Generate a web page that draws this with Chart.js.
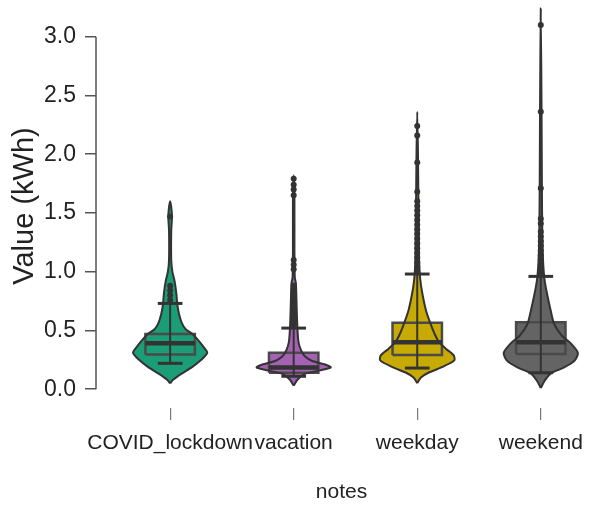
<!DOCTYPE html>
<html>
<head>
<meta charset="utf-8">
<script src="https://cdn.jsdelivr.net/npm/chart.js@4.4.1/dist/chart.umd.min.js"></script>
<style>
  body { margin: 0; background: #fff; }
  canvas { display: block; }
</style>
</head>
<body>
<canvas id="violinChart" width="591" height="506"></canvas>
<script>
const notes = ["COVID_lockdown", "vacation", "weekday", "weekend"];
const colors = ["#1b9e77", "#a561b3", "#c8aa04", "#646464"];
const yTicks = [0, 0.5, 1, 1.5, 2, 2.5, 3];

// violin outline: value levels and relative half-width at each level
const covidLevels = [0.05, 0.08, 0.13, 0.19, 0.25, 0.31, 0.36, 0.42, 0.47, 0.51, 0.56, 0.64, 0.73, 0.81, 0.92, 1.0, 1.1, 1.35, 1.47, 1.55, 1.6];
const covidWidths = [0, 0.08, 0.3, 0.6, 0.84, 1.0, 0.9, 0.75, 0.6, 0.42, 0.32, 0.24, 0.19, 0.17, 0.12, 0.06, 0.03, 0.03, 0.05, 0.03, 0];
const vacationLevels = [0.03, 0.08, 0.13, 0.16, 0.185, 0.21, 0.24, 0.28, 0.33, 0.4, 0.52, 0.7, 0.9, 0.95, 1.2, 1.6, 1.82];
const vacationWidths = [0, 0.1, 0.3, 0.7, 1.0, 0.85, 0.5, 0.3, 0.2, 0.13, 0.1, 0.08, 0.06, 0.03, 0.02, 0.02, 0];
const weekdayLevels = [0.05, 0.1, 0.14, 0.185, 0.245, 0.29, 0.345, 0.4, 0.47, 0.565, 0.665, 0.81, 0.94, 1.1, 1.4, 1.65, 2.0, 2.36];
const weekdayWidths = [0, 0.1, 0.3, 0.65, 1.0, 0.98, 0.77, 0.59, 0.47, 0.35, 0.24, 0.14, 0.08, 0.05, 0.04, 0.03, 0.02, 0];
const weekendLevels = [0.01, 0.07, 0.135, 0.185, 0.245, 0.31, 0.39, 0.455, 0.555, 0.665, 0.81, 0.935, 1.1, 1.34, 1.7, 2.4, 3.24];
const weekendWidths = [0, 0.1, 0.27, 0.63, 0.92, 1.0, 0.81, 0.57, 0.36, 0.27, 0.17, 0.1, 0.06, 0.04, 0.03, 0.02, 0];

// box stats: lower whisker, q1, median, q3, upper whisker
const covidBox = [0.22, 0.295, 0.39, 0.47, 0.73];
const vacationBox = [0.11, 0.14, 0.185, 0.31, 0.52];
const weekdayBox = [0.18, 0.29, 0.40, 0.565, 0.98];
const weekendBox = [0.14, 0.30, 0.40, 0.57, 0.96];

// outliers
const covidOut = [0.76, 0.8, 0.84, 0.88, 1.47];
const vacationOut = [0.55, 0.58, 0.61, 0.64, 0.67, 0.7, 0.73, 0.76, 0.79, 0.82, 0.85, 0.88, 1.02, 1.06, 1.1, 1.65, 1.7, 1.74, 1.79];
const weekdayOut = [1.0, 1.04, 1.08, 1.12, 1.16, 1.2, 1.24, 1.28, 1.32, 1.36, 1.4, 1.44, 1.48, 1.52, 1.56, 1.6, 1.68, 1.93, 2.16, 2.24];
const weekendOut = [0.98, 1.02, 1.06, 1.1, 1.14, 1.18, 1.22, 1.26, 1.3, 1.34, 1.41, 1.45, 1.71, 2.36, 3.1];

const groups = [
  { levels: covidLevels, widths: covidWidths, box: covidBox, out: covidOut },
  { levels: vacationLevels, widths: vacationWidths, box: vacationBox, out: vacationOut },
  { levels: weekdayLevels, widths: weekdayWidths, box: weekdayBox, out: weekdayOut },
  { levels: weekendLevels, widths: weekendWidths, box: weekendBox, out: weekendOut },
];

const VIOLIN_HALF = 0.3;
const BOX_HALF = 0.2;
const CAP_HALF = 0.1;
const EDGE = "#333333";

function violinPoints(i, levels, widths) {
  const right = levels.map((v, k) => ({ x: i + widths[k] * VIOLIN_HALF, y: v }));
  const left = levels.map((v, k) => ({ x: i - widths[k] * VIOLIN_HALF, y: v })).reverse();
  return right.concat(left.slice(1));
}

function segment(x1, y1, x2, y2, width, order) {
  return {
    type: "line",
    data: [{ x: x1, y: y1 }, { x: x2, y: y2 }],
    borderColor: EDGE,
    borderWidth: width,
    pointRadius: 0,
    fill: false,
    order: order,
  };
}

const datasets = [];
groups.forEach((g, i) => {
  const pts = violinPoints(i, g.levels, g.widths);
  const [lo, q1, med, q3, hi] = g.box;

  // violin fill underneath everything
  datasets.push({
    type: "line", data: pts, fill: "shape",
    backgroundColor: colors[i], borderColor: "rgba(0,0,0,0)",
    pointRadius: 0, tension: 0.25, order: 6,
  });
  // box
  datasets.push({
    type: "line",
    data: [{ x: i - BOX_HALF, y: q1 }, { x: i + BOX_HALF, y: q1 }, { x: i + BOX_HALF, y: q3 },
           { x: i - BOX_HALF, y: q3 }, { x: i - BOX_HALF, y: q1 }],
    fill: "shape", backgroundColor: colors[i], borderColor: "#4a4a4a", borderWidth: 2.5,
    pointRadius: 0, tension: 0, order: 5,
  });
  // violin outline
  datasets.push({
    type: "line", data: pts, fill: false, borderColor: EDGE, borderWidth: 2,
    pointRadius: 0, tension: 0.25, order: 4,
  });
  // whisker, caps, median
  datasets.push(segment(i, lo, i, hi, 2, 3));
  datasets.push(segment(i - CAP_HALF, lo, i + CAP_HALF, lo, 3, 2));
  datasets.push(segment(i - CAP_HALF, hi, i + CAP_HALF, hi, 3, 2));
  datasets.push(segment(i - BOX_HALF, med, i + BOX_HALF, med, 4.5, 2));
  // outlier points
  datasets.push({
    type: "scatter",
    data: g.out.map(v => ({ x: i, y: v })),
    backgroundColor: EDGE, borderWidth: 0, pointRadius: 3, order: 1,
  });
});

// R-style y axis line, only between first and last tick
const yAxisLine = {
  id: "yAxisLine",
  afterDraw(chart) {
    const { ctx, chartArea, scales: { y } } = chart;
    ctx.save();
    ctx.strokeStyle = "#555";
    ctx.lineWidth = 1.5;
    ctx.beginPath();
    ctx.moveTo(chartArea.left, y.getPixelForValue(yTicks[0]));
    ctx.lineTo(chartArea.left, y.getPixelForValue(yTicks[yTicks.length - 1]));
    ctx.stroke();
    ctx.restore();
  },
};

const fontFamily = "'Liberation Sans', Arial, sans-serif";

new Chart(document.getElementById("violinChart"), {
  type: "line",
  data: { datasets },
  plugins: [yAxisLine],
  options: {
    responsive: false,
    devicePixelRatio: 1,
    animation: false,
    layout: { padding: 0 },
    plugins: { legend: { display: false }, tooltip: { enabled: false } },
    scales: {
      x: {
        type: "linear",
        min: -0.6,
        max: 3.374,
        afterBuildTicks: s => { s.ticks = notes.map((_, i) => ({ value: i })); },
        afterFit: s => { s.height = 98; s.paddingLeft = 0; s.paddingRight = 0; },
        ticks: {
          autoSkip: false, maxRotation: 0, minRotation: 0, padding: 11,
          color: "#222", font: { family: fontFamily, size: 21 },
          callback: v => notes[v],
        },
        grid: { drawOnChartArea: false, drawTicks: true, tickLength: 12, color: "#777", lineWidth: 1.2 },
        border: { display: false },
        title: {
          display: true, text: "notes", color: "#222",
          font: { family: fontFamily, size: 21 }, padding: { top: 0, bottom: 1.5 },
        },
      },
      y: {
        min: -0.16,
        max: 3.278,
        afterBuildTicks: s => { s.ticks = yTicks.map(v => ({ value: v })); },
        afterFit: s => { s.width = 96; s.paddingTop = 0; s.paddingBottom = 0; },
        ticks: {
          padding: 9, color: "#222", font: { family: fontFamily, size: 23 },
          callback: v => v.toFixed(1),
        },
        grid: { drawOnChartArea: false, drawTicks: true, tickLength: 11, color: "#555", lineWidth: 1.5 },
        border: { display: false },
        title: {
          display: true, text: "Value (kWh)", color: "#222",
          font: { family: fontFamily, size: 29 }, padding: { top: 8, bottom: 0 },
        },
      },
    },
  },
});
</script>
</body>
</html>
